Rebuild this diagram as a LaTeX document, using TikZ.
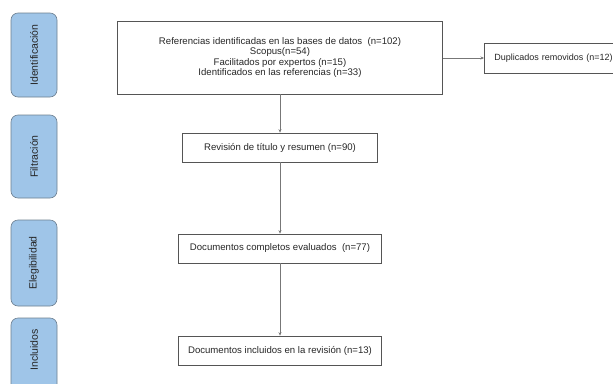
\documentclass[tikz,border=0pt]{standalone}
\usepackage{fontspec}
\setmainfont{Liberation Sans}
\usetikzlibrary{arrows.meta}
\definecolor{sideblue}{HTML}{9FC5E8}
\definecolor{sideline}{HTML}{6D7F8F}
\definecolor{boxline}{HTML}{555555}
\definecolor{arrline}{HTML}{777777}
\begin{document}
\begin{tikzpicture}[x=1pt,y=-1pt,
  sidebox/.style={draw=sideline,fill=sideblue,rounded corners=7pt,line width=0.6pt},
  mainbox/.style={draw=boxline,line width=0.7pt,align=center,font=\fontsize{9.6}{10.5}\selectfont,inner sep=0pt,text=black!85},
  flow/.style={draw=arrline,line width=0.6pt,-{Stealth[length=3.5pt,width=3pt]}},
  sidetext/.style={rotate=90,font=\fontsize{10.5}{12}\selectfont,text=black!85}]
\useasboundingbox (0,0) rectangle (613,383);
\clip (0,0) rectangle (613,383);
% side boxes
\draw[sidebox] (11,13) rectangle (57,97);
\node[sidetext] (sIdent) at (34,55) {Identificación};
\draw[sidebox] (11,115) rectangle (57,198);
\node[sidetext] (sFilt) at (34,156.5) {Filtración};
\draw[sidebox] (11,220) rectangle (57,306);
\node[sidetext] (sEleg) at (34,263) {Elegibilidad};
\draw[sidebox] (11,318) rectangle (57,400);
\node[sidetext] (sIncl) at (34,350) {Incluidos};
% main boxes
\node[mainbox,minimum width=325pt,minimum height=73pt] (ref) at (280,57.5)
  {Referencias identificadas en las bases de datos~ (n=102)\\Scopus(n=54)\\Facilitados por expertos (n=15)\\Identificados en las referencias (n=33)};
\node[mainbox,minimum width=195pt,minimum height=29pt] (rev) at (280,147.5)
  {Revisión de título y resumen (n=90)};
\node[mainbox,minimum width=203pt,minimum height=29pt] (doc) at (280,248.5)
  {Documentos completos evaluados~ (n=77)};
\node[mainbox,minimum width=203pt,minimum height=29pt] (inc) at (280,350.5)
  {Documentos incluidos en la revisión (n=13)};
\node[mainbox,font=\fontsize{9}{10}\selectfont,minimum width=150pt,minimum height=30pt,anchor=west,text width=150pt,align=left] (dup) at (484,58)
  {\hspace*{10pt}Duplicados removidos (n=12)};
% connectors
\draw[flow] (ref) -- (rev);
\draw[flow] (rev) -- (doc);
\draw[flow] (doc) -- (inc);
\draw[flow] (ref.east |- dup.west) -- (dup.west);
\end{tikzpicture}
\end{document}
